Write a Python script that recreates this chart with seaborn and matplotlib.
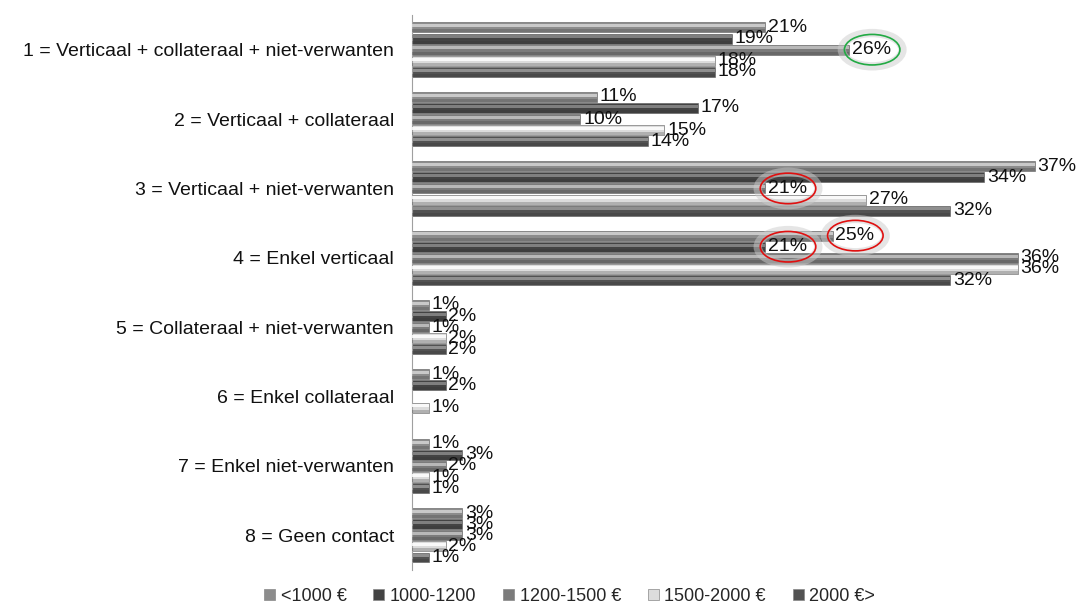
import numpy as np
import pandas as pd
import seaborn as sns
import matplotlib.pyplot as plt
from matplotlib.patches import Rectangle, Ellipse

# categorieën en inkomensklassen
categories = ['1 = Verticaal + collateraal + niet-verwanten',
              '2 = Verticaal + collateraal',
              '3 = Verticaal + niet-verwanten',
              '4 = Enkel verticaal',
              '5 = Collateraal + niet-verwanten',
              '6 = Enkel collateraal',
              '7 = Enkel niet-verwanten',
              '8 = Geen contact']
groups = ['<1000 €', '1000-1200', '1200-1500 €', '1500-2000 €', '2000 €>']

# percentages per inkomensklasse
lt_1000 = [21, 11, 37, 25, 1, 1, 1, 3]
v1000_1200 = [19, 17, 34, 21, 2, 2, 3, 3]
v1200_1500 = [26, 10, 21, 36, 1, 0, 2, 3]
v1500_2000 = [18, 15, 27, 36, 2, 1, 1, 2]
gt_2000 = [18, 14, 32, 32, 2, 0, 1, 1]

colors = ['#8c8c8c', '#434343', '#7b7b7b', '#dcdcdc', '#525252']
highlight = ['#d4d4d4', '#8a8a8a', '#c4c4c4', '#ffffff', '#9a9a9a']

# omcirkelde waarden: (categorie, groep, kleur)
circled = [(0, 2, '#22aa44'), (2, 2, '#e01010'), (3, 0, '#e01010'), (3, 1, '#e01010')]

rows = []
for g, vals in zip(groups, [lt_1000, v1000_1200, v1200_1500, v1500_2000, gt_2000]):
    for c, v in zip(categories, vals):
        rows.append({'categorie': c, 'groep': g, 'pct': v})
df = pd.DataFrame(rows)

sns.set_style('white')
plt.rcParams['font.family'] = ['Liberation Sans', 'DejaVu Sans']
fs = 14

fig = plt.figure(figsize=(10.85, 6.15), dpi=100)
ax = fig.add_axes([0.3797, 0.0732, 0.6203, 0.9024])

sns.barplot(data=df, y='categorie', x='pct', hue='groep', order=categories,
            hue_order=groups, palette=colors, orient='h', width=0.8, gap=0.1,
            edgecolor='#5a5a5a', linewidth=0.4, ax=ax, legend=False)

# glans op de balken
for k, cont in enumerate(ax.containers):
    for p in cont.patches:
        if p.get_width() <= 0:
            continue
        h = p.get_height()
        ax.add_patch(Rectangle((p.get_x(), p.get_y() + h * 0.18), p.get_width(), h * 0.3,
                               facecolor=highlight[k], edgecolor='none', alpha=0.85, zorder=3))
        ax.add_patch(Rectangle((p.get_x(), p.get_y() + h * 0.7), p.get_width(), h * 0.3,
                               facecolor='#303030', edgecolor='none', alpha=0.25, zorder=3))

for cont in ax.containers:
    labels = [f'{v:.0f}%' if v > 0 else '' for v in cont.datavalues]
    ax.bar_label(cont, labels=labels, padding=2, fontsize=fs, color='#111111')

for ci, gi, col in circled:
    p = ax.containers[gi].patches[ci]
    cx = p.get_width() + 1.35
    cy = p.get_y() + p.get_height() / 2
    ax.add_patch(Ellipse((cx, cy), 3.6, 0.48, facecolor='none', edgecolor='#cccccc',
                         linewidth=6, alpha=0.5, zorder=4))
    ax.add_patch(Ellipse((cx, cy), 3.3, 0.44, facecolor='none', edgecolor=col,
                         linewidth=1.2, zorder=5))

ax.set_xlim(0, 40)
ax.set_ylim(len(categories) - 0.5, -0.5)
ax.set_xlabel('')
ax.set_ylabel('')
ax.set_xticks([])
for s in ['top', 'right', 'bottom']:
    ax.spines[s].set_visible(False)
ax.spines['left'].set_color('#a0a0a0')
ax.tick_params(axis='y', which='major', length=0, pad=13, labelsize=fs, labelcolor='#111111')
ax.set_yticks(np.arange(-0.5, len(categories), 1), minor=True)
ax.tick_params(axis='y', which='minor', length=5, color='#a0a0a0', width=1)

handles = [Rectangle((0, 0), 1, 1, facecolor=c, edgecolor='#888888', linewidth=0.5) for c in colors]
fig.legend(handles, groups, loc='lower center', bbox_to_anchor=(0.525, -0.01), ncol=5,
           frameon=False, fontsize=13, handlelength=0.6, handleheight=0.6,
           handletextpad=0.3, columnspacing=1.5)

fig.savefig('out.png', dpi=100)
